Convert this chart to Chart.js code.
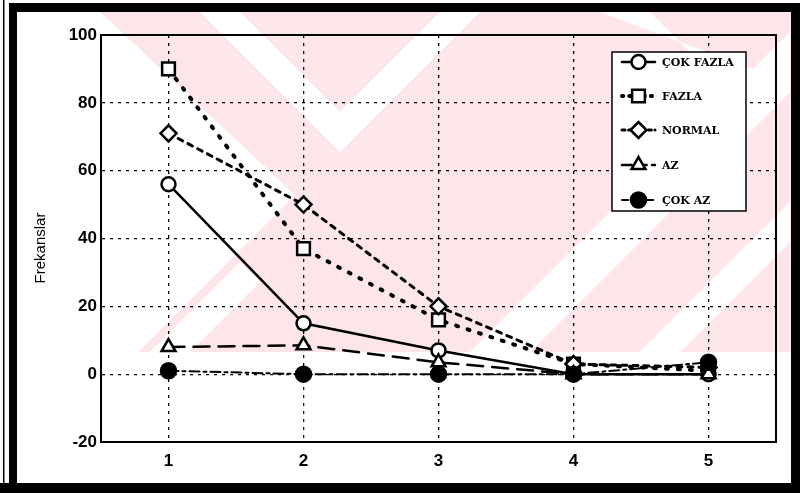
<!DOCTYPE html>
<html>
<head>
<meta charset="utf-8">
<script src="https://cdn.jsdelivr.net/npm/chart.js"></script>
<style>
  html, body { margin: 0; padding: 0; background: #fff; }
  #wrap { width: 800px; height: 493px; }
</style>
</head>
<body>
<div id="wrap"><canvas id="chart" width="800" height="493"></canvas></div>
<script>
// values
const categories = [1, 2, 3, 4, 5]
const cokFazla = [56, 15, 7, 0, 0]
const fazla = [90, 37, 16, 3, 1]
const normal = [71, 50, 20, 3, 2]
const az = [8, 8.5, 3.5, 0, 0]
const cokAz = [1, 0, 0, 0, 3.5]
const yTicks = [-20, 0, 20, 40, 60, 80, 100]
const seriesNames = ['ÇOK FAZLA', 'FAZLA', 'NORMAL', 'AZ', 'ÇOK AZ']
const yTitle = 'Frekanslar'

const pts = vals => vals.map((v, i) => ({ x: categories[i], y: v }))

const styles = [
  { data: cokFazla, dash: [], style: 'circle', r: 7, fill: '#fff', lw: 2.5 },
  { data: fazla, dash: [2, 10], style: 'rect', r: 9, fill: '#fff', lw: 4 },
  { data: normal, dash: [5, 6], style: 'rectRot', r: 8, fill: '#fff', lw: 3 },
  { data: az, dash: [16, 9], style: 'triangle', r: 8, fill: '#fff', lw: 2.5 },
  { data: cokAz, dash: [10, 4, 3, 4], style: 'circle', r: 7.5, fill: '#000', lw: 2 }
]

const datasets = styles.map((s, i) => ({
  label: seriesNames[i],
  data: pts(s.data),
  order: styles.length - i,
  borderColor: '#000',
  borderWidth: s.lw,
  borderDash: s.dash,
  borderCapStyle: 'round',
  pointStyle: s.style,
  pointRadius: s.r,
  pointBorderWidth: 2.5,
  pointBackgroundColor: s.fill,
  pointBorderColor: '#000',
  tension: 0
}))

// background, pink watermark and the black frame
const framePlugin = {
  id: 'frame',
  beforeDraw(chart) {
    const ctx = chart.ctx
    ctx.save()
    ctx.fillStyle = '#fff'
    ctx.fillRect(0, 0, 800, 493)

    ctx.beginPath()
    ctx.moveTo(100, 12); ctx.lineTo(791, 12); ctx.lineTo(791, 352)
    ctx.lineTo(138, 352); ctx.lineTo(295, 195); ctx.closePath()
    ctx.clip()
    ctx.fillStyle = '#fde6ea'
    ctx.fillRect(0, 0, 800, 493)
    ctx.fillStyle = '#fff'
    const band = (pts) => {
      ctx.beginPath()
      pts.forEach((p, i) => i ? ctx.lineTo(p[0], p[1]) : ctx.moveTo(p[0], p[1]))
      ctx.closePath(); ctx.fill()
    }
    band([[200, 12], [340, 152], [480, 12], [440, 12], [340, 112], [240, 12]])
    band([[470, 352], [530, 352], [790, 92], [790, 32]])
    band([[640, 352], [680, 352], [790, 242], [790, 202]])
    band([[150, 352], [190, 352], [260, 282], [240, 262]])
    band([[600, 12], [650, 12], [760, 122], [760, 72]])
    ctx.restore()

    ctx.save()
    ctx.fillStyle = '#000'
    ctx.fillRect(9, 3, 8, 490)
    ctx.fillRect(9, 3, 791, 9)
    ctx.fillRect(0, 483, 800, 10)
    ctx.fillRect(791, 3, 9, 490)
    ctx.fillRect(3, 0, 1.5, 493)
    ctx.restore()
  },
  beforeDatasetsDraw(chart) {
    const { ctx, chartArea: a } = chart
    ctx.save()
    ctx.strokeStyle = '#000'
    ctx.lineWidth = 2
    ctx.strokeRect(a.left, a.top, a.right - a.left, a.bottom - a.top)
    // y axis title
    ctx.translate(41, 248)
    ctx.rotate(-Math.PI / 2)
    ctx.fillStyle = '#000'
    ctx.font = '15px "Liberation Sans"'
    ctx.textAlign = 'center'
    ctx.textBaseline = 'middle'
    ctx.fillText(yTitle, 0, 0)
    ctx.restore()
  },
  afterDraw(chart) {
    // legend box in the upper right
    const ctx = chart.ctx
    const x0 = 612, y0 = 52, w = 134, h = 159
    ctx.save()
    ctx.fillStyle = '#fff'
    ctx.fillRect(x0, y0, w, h)
    ctx.strokeStyle = '#000'
    ctx.lineWidth = 1.5
    ctx.strokeRect(x0, y0, w, h)
    const rows = [62, 96, 130, 165, 200]
    styles.forEach((s, i) => {
      const ds = chart.data.datasets[i]
      const y = rows[i]
      ctx.strokeStyle = '#000'
      ctx.lineWidth = ds.borderWidth
      ctx.lineCap = 'round'
      ctx.setLineDash(ds.borderDash.map(d => d * 0.6))
      ctx.beginPath(); ctx.moveTo(622, y); ctx.lineTo(655, y); ctx.stroke()
      ctx.setLineDash([])
      ctx.fillStyle = ds.pointBackgroundColor
      ctx.lineWidth = ds.pointBorderWidth
      Chart.helpers.drawPoint(ctx, { pointStyle: ds.pointStyle, radius: ds.pointRadius, rotation: 0, borderWidth: ds.pointBorderWidth }, 638.5, y)
      ctx.fillStyle = '#000'
      ctx.font = 'bold 11px "DejaVu Serif"'
      ctx.textBaseline = 'middle'
      ctx.fillText(ds.label, 662, y + 1)
    })
    ctx.restore()
  }
}

new Chart(document.getElementById('chart'), {
  type: 'line',
  data: { datasets },
  plugins: [framePlugin],
  options: {
    responsive: false,
    animation: false,
    events: [],
    layout: { padding: { left: 0, top: 35, right: 24, bottom: 0 } },
    plugins: { legend: { display: false }, tooltip: { enabled: false } },
    scales: {
      x: {
        type: 'linear',
        min: 0.5,
        max: 5.5,
        afterBuildTicks: s => { s.ticks = categories.map(v => ({ value: v })) },
        afterFit: s => { s.height = 51 },
        grid: { color: '#000', lineWidth: 1.3, drawTicks: false },
        border: { color: '#000', width: 2, dash: [3, 5] },
        ticks: { color: '#000', padding: 9, font: { family: 'Liberation Sans', size: 17, weight: 'bold' } }
      },
      y: {
        min: -20,
        max: 100,
        afterBuildTicks: s => { s.ticks = yTicks.map(v => ({ value: v })) },
        afterFit: s => { s.width = 101 },
        grid: { color: '#000', lineWidth: 1.3, drawTicks: false },
        border: { color: '#000', width: 2, dash: [3, 5] },
        ticks: { color: '#000', padding: 4, font: { family: 'Liberation Sans', size: 17, weight: 'bold' } }
      }
    }
  }
})
</script>
</body>
</html>
